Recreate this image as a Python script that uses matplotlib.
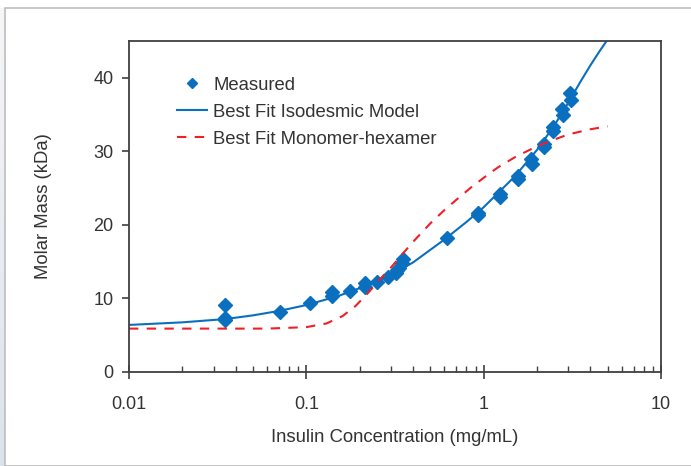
import numpy as np
import matplotlib
matplotlib.use('Agg')
import matplotlib.pyplot as plt
from matplotlib.patches import Rectangle
from matplotlib.ticker import LogLocator, NullFormatter

plt.rcParams['font.family'] = ['Liberation Sans', 'DejaVu Sans']

# Measured points (mg/mL, kDa)
meas_conc = [0.035, 0.035, 0.035, 0.071, 0.105, 0.14, 0.14, 0.176, 0.214, 0.214,
             0.25, 0.288, 0.32, 0.325, 0.335, 0.345, 0.35, 0.62, 0.925, 0.93,
             1.23, 1.24, 1.56, 1.57, 1.86, 1.88, 2.18, 2.2, 2.45, 2.47,
             2.78, 2.8, 3.08, 3.1]
meas_mass = [9.1, 7.4, 7.1, 8.2, 9.4, 10.9, 10.4, 11.0, 12.1, 11.6,
             12.3, 12.9, 13.5, 13.8, 14.2, 14.8, 15.3, 18.2, 21.6, 21.4,
             24.2, 23.8, 26.7, 26.2, 29.0, 28.3, 31.0, 30.6, 33.3, 32.8,
             35.7, 34.9, 37.9, 37.0]

# Isodesmic fit curve
iso_conc = [0.01, 0.02, 0.035, 0.05, 0.07, 0.1, 0.15, 0.2, 0.3, 0.4, 0.6, 0.8,
            1.0, 1.5, 2.0, 2.5, 3.0, 3.5, 4.0, 4.5, 5.0]
iso_mass = [6.4, 6.75, 7.2, 7.7, 8.3, 9.1, 10.3, 11.4, 13.2, 14.9, 18.0, 20.4,
            22.4, 26.6, 30.2, 33.5, 36.6, 39.4, 41.7, 43.6, 45.2]

# Monomer-hexamer fit curve
hex_conc = [0.01, 0.03, 0.06, 0.1, 0.13, 0.16, 0.19, 0.22, 0.26, 0.3, 0.35,
            0.4, 0.5, 0.6, 0.7, 0.85, 1.0, 1.2, 1.5, 2.0, 2.5, 3.0, 4.0, 5.0]
hex_mass = [5.9, 5.9, 5.9, 6.1, 6.6, 7.6, 9.0, 10.6, 12.6, 14.2, 16.1,
            17.7, 20.2, 22.0, 23.4, 25.1, 26.4, 27.8, 29.2, 30.7, 31.6, 32.3, 33.0, 33.4]

blue = '#0A6FBF'
red = '#EE1F26'
grey = '#404040'
text_grey = '#333333'

fig = plt.figure(figsize=(6.91, 4.66), dpi=100)

# outer frame of the screenshot
fig.patches.append(Rectangle((5 / 691, 0), 1, 1 - 8 / 466, transform=fig.transFigure,
                             fill=False, edgecolor='#BDBDBD', linewidth=1.2))
strip = fig.add_axes([0, 0, 5 / 691, 1 - 8 / 466])
strip.imshow(np.linspace(0, 1, 100).reshape(-1, 1), aspect='auto',
             cmap=matplotlib.colors.LinearSegmentedColormap.from_list('s', ['#F6F6F8', '#DCE2EC']))
strip.axis('off')

ax = fig.add_axes([129 / 691, 1 - 372 / 466, 532 / 691, 331 / 466])
ax.plot(meas_conc, meas_mass, linestyle='none', marker='D', markersize=7,
        color=blue, label='Measured')
ax.plot(iso_conc, iso_mass, color=blue, linewidth=1.5, label='Best Fit Isodesmic Model')
ax.plot(hex_conc, hex_mass, color=red, linewidth=1.5, dashes=(4.5, 4),
        label='Best Fit Monomer-hexamer')

ax.set_xscale('log')
ax.set_xlim(0.01, 10)
ax.set_ylim(0, 45)
ax.set_xticks([0.01, 0.1, 1, 10])
ax.set_xticklabels(['0.01', '0.1', '1', '10'])
ax.xaxis.set_minor_locator(LogLocator(base=10, subs=np.arange(2, 10)))
ax.xaxis.set_minor_formatter(NullFormatter())
ax.set_yticks([0, 10, 20, 30, 40])

ax.tick_params(axis='x', which='major', direction='inout', length=10, width=1.2,
               colors=grey, labelsize=13, pad=12, labelcolor=text_grey)
ax.tick_params(axis='x', which='minor', direction='in', length=4, width=1.0, colors=grey)
ax.tick_params(axis='y', which='major', direction='out', length=5, width=1.2,
               colors=grey, labelsize=13, pad=6, labelcolor=text_grey)
for s in ax.spines.values():
    s.set_color(grey)
    s.set_linewidth(1.3)

ax.set_xlabel('Insulin Concentration (mg/mL)', fontsize=13.3, color=text_grey, labelpad=12)
ax.set_ylabel('Molar Mass (kDa)', fontsize=13.3, color=text_grey, labelpad=30)

ax.legend(loc='upper left', bbox_to_anchor=(0.077, 0.915), frameon=False, fontsize=13.3,
          handlelength=1.6, handletextpad=0.35, labelspacing=0.55, borderaxespad=0,
          markerscale=0.75, labelcolor=text_grey)

fig.savefig('out.png', dpi=100)
